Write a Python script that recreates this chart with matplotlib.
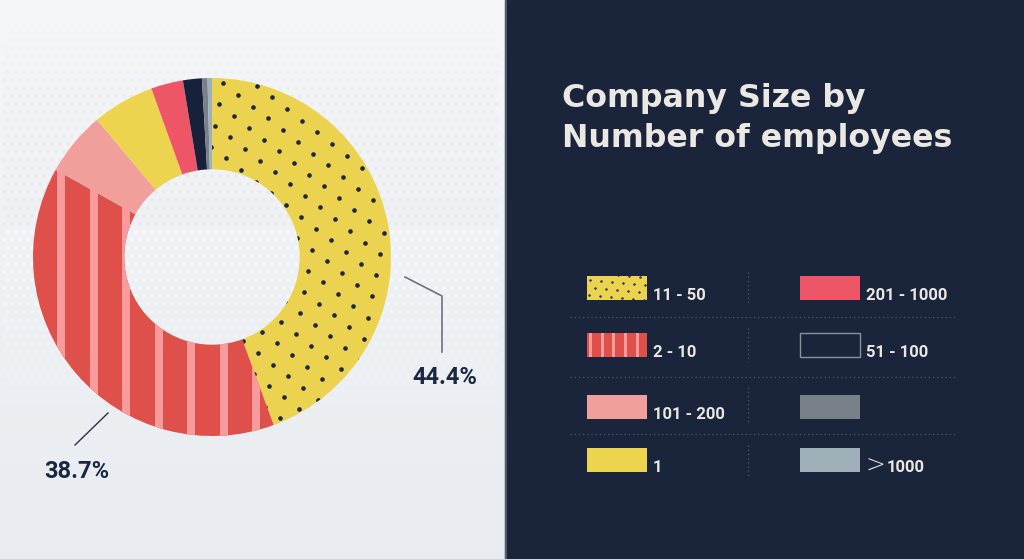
import numpy as np
import matplotlib.pyplot as plt
from matplotlib.patches import Rectangle

# data (share of respondents, %)
categories = ["11 - 50", "2 - 10", "101 - 200", "1", "201 - 1000", "51 - 100", "", "> 1000"]
shares = [44.4, 38.7, 5.8, 5.6, 2.9, 1.7, 0.5, 0.4]
slice_colors = ["#ecd34f", "#e0504a", "#f19f9b", "#edd44f", "#ee5567", "#17213a", "#7a8087", "#9fb0b8"]
callouts = ["44.4%", "38.7%"]

# legend: left column then right column (indices into categories)
legend_left = [0, 1, 2, 3]
legend_right = [4, 5, 6, 7]

W, H = 1024, 559
NAVY = "#1a253c"
TEXT_DARK = "#1b2640"
TEXT_LIGHT = "#ebe8e3"
DOT = "#1c2740"
STRIPE = "#f99a9c"

fig = plt.figure(figsize=(W / 100, H / 100), dpi=100)
ax = fig.add_axes([0, 0, 1, 1])
ax.set_xlim(0, W)
ax.set_ylim(H, 0)
ax.axis("off")

# ---- left panel background: vertical gradient + faint halftone dots ----
grad = np.linspace(0, 1, 256)[:, None]
top = np.array([0.965, 0.969, 0.976])
bot = np.array([0.910, 0.925, 0.941])
img = top + (bot - top) * grad[..., None] ** 0.8
ax.imshow(img, extent=[0, 505, H, 0], aspect="auto", zorder=0)

gx, gy = np.meshgrid(np.arange(4, 500, 8.0), np.arange(0, H, 8.0))
gx = gx + 4 * ((gy // 8) % 2)
gx, gy = gx.ravel(), gy.ravel()
t = gy / H
bg = top + (bot - top) * (t[:, None] ** 0.8)
delta = np.where(gy < 230, -0.028 * np.clip((gy - 10) / 80, 0, 1),
                 0.028 * np.clip((420 - gy) / 140, 0, 1))
cols = np.clip(bg + delta[:, None], 0, 1)
ax.scatter(gx, gy, s=9, c=cols, linewidths=0, zorder=1)

# ---- right navy panel ----
ax.add_patch(Rectangle((505, 0), W - 505, H, color=NAVY, zorder=1.5))
ax.plot([505.5, 505.5], [0, H], color="#5d6779", lw=1.2, zorder=1.6)

# ---- donut ----
cx, cy, R = 212, 257, 179
wedges, _ = ax.pie(shares, colors=slice_colors, startangle=-90, counterclock=True,
                   radius=R, center=(cx, cy),
                   wedgeprops=dict(width=R * 0.51, linewidth=0))
for w in wedges:
    w.set_zorder(2)
ax.set_xlim(0, W)
ax.set_ylim(H, 0)
ax.set_aspect("auto")

# dotted texture on the 11-50 slice
a, b = np.array([34.0, 2.3]), np.array([15.0, 11.7])
ii, jj = np.meshgrid(np.arange(-25, 25), np.arange(-40, 40))
pts = np.array([222.7, 83.3]) + ii.ravel()[:, None] * a + jj.ravel()[:, None] * b
sc = ax.scatter(pts[:, 0], pts[:, 1], s=11, color=DOT, linewidths=0, zorder=3)
sc.set_clip_path(wedges[0])

# vertical stripes on the 2-10 slice
for k in range(-1, 12):
    r = Rectangle((57 + 32.5 * k, 0), 8, H, color=STRIPE, lw=0, zorder=3)
    ax.add_patch(r)
    r.set_clip_path(wedges[1])

# ---- callouts ----
ax.plot([405, 442, 442], [277, 296, 352], color="#6b7280", lw=1.2, zorder=4)
ax.text(445, 378, callouts[0], ha="center", va="center", fontsize=17,
        fontweight="bold", family="Roboto", color=TEXT_DARK, zorder=4)
ax.plot([108, 75], [413, 445], color="#2b3346", lw=1.0, zorder=4)
ax.text(77, 471, callouts[1], ha="center", va="center", fontsize=17,
        fontweight="bold", family="Roboto", color=TEXT_DARK, zorder=4)

# ---- title ----
ax.text(562, 98, "Company Size by", ha="left", va="center", fontsize=22.8,
        fontweight="bold", family="DejaVu Sans", color=TEXT_LIGHT, zorder=5)
ax.text(562, 139, "Number of employees", ha="left", va="center", fontsize=22.8,
        fontweight="bold", family="DejaVu Sans", color=TEXT_LIGHT, zorder=5)

# ---- legend ----
row_tops = [276, 333, 395, 448]
row_h = 24
sep_y = [317, 377, 434]
vsep = [(272, 303), (328, 362), (387, 423), (445, 478)]
for y in sep_y:
    ax.plot([570, 955], [y, y], color="#45506a", lw=1.0, ls=(0, (1, 2)), zorder=2)
for y0, y1 in vsep:
    ax.plot([748, 748], [y0, y1], color="#45506a", lw=1.0, ls=(0, (1, 2)), zorder=2)


def swatch(x, y, idx):
    if idx == 5:
        ax.add_patch(Rectangle((x, y), 60, row_h, facecolor=NAVY, edgecolor="#8a92a0",
                               lw=1.0, zorder=2))
        return
    rect = Rectangle((x, y), 60, row_h, facecolor=slice_colors[idx], lw=0, zorder=2)
    ax.add_patch(rect)
    if idx == 0:
        sa, sb = np.array([11.0, 1.0]), np.array([5.0, 8.0])
        i2, j2 = np.meshgrid(np.arange(-8, 10), np.arange(-2, 6))
        p = np.array([x + 3, y + 4]) + i2.ravel()[:, None] * sa + j2.ravel()[:, None] * sb
        s = ax.scatter(p[:, 0], p[:, 1], s=3, color=DOT, linewidths=0, zorder=3)
        s.set_clip_path(rect)
    if idx == 1:
        for k in range(6):
            st = Rectangle((x + 2 + 11.7 * k, y), 3, row_h, color=STRIPE, lw=0, zorder=3)
            ax.add_patch(st)
            st.set_clip_path(rect)


for col_x, lab_x, idxs in [(587, 653, legend_left), (800, 866, legend_right)]:
    for y, idx in zip(row_tops, idxs):
        swatch(col_x, y, idx)
        label = categories[idx]
        if label.startswith(">"):
            ax.text(lab_x, y + row_h - 6, ">", ha="left", va="center", fontsize=17,
                    fontweight="light", family="DejaVu Sans", color=TEXT_LIGHT, zorder=5)
            ax.text(lab_x + 21, y + row_h, label[2:], ha="left", va="baseline", fontsize=12,
                    fontweight="bold", family="Roboto", color=TEXT_LIGHT, zorder=5)
        elif label:
            ax.text(lab_x, y + row_h, label, ha="left", va="baseline", fontsize=12,
                    fontweight="bold", family="Roboto", color=TEXT_LIGHT, zorder=5)

fig.savefig("out.png", dpi=100)
